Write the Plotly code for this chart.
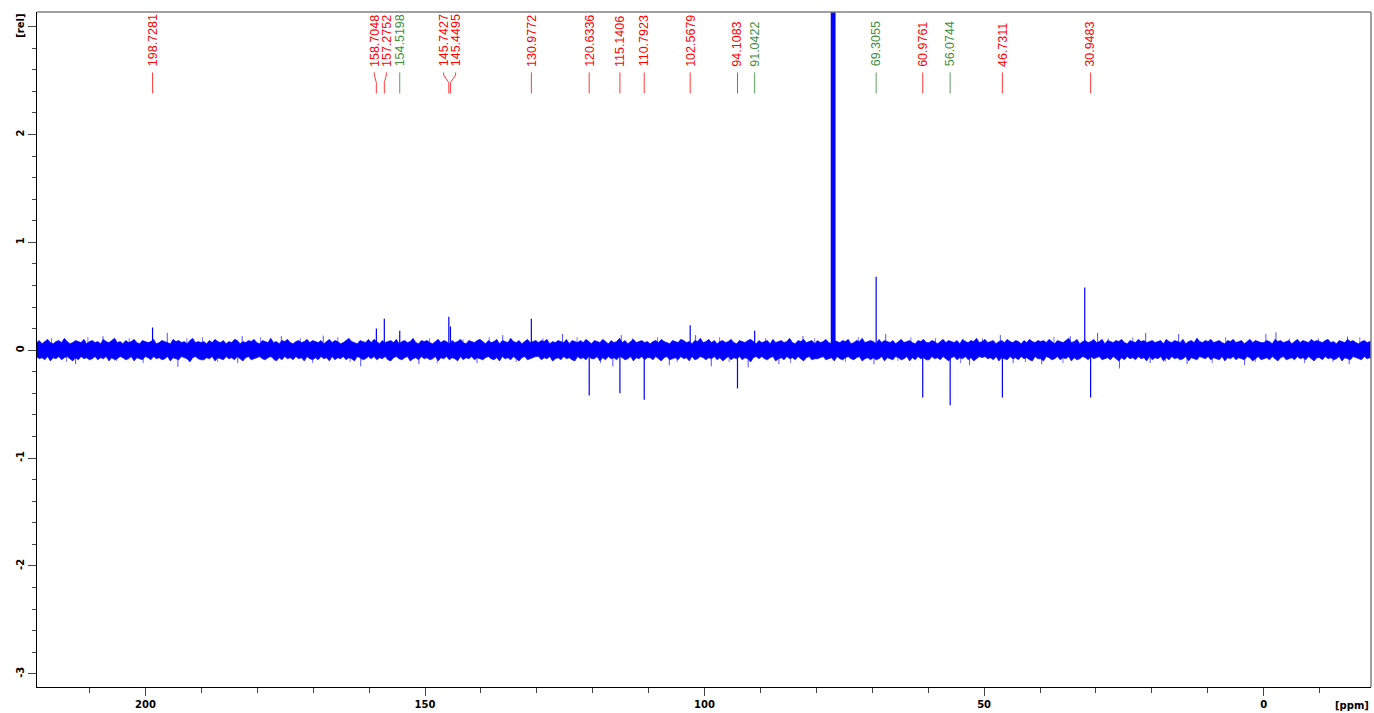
import numpy as np
import plotly.graph_objects as go

# ---------------- data ----------------
label_ppm = [198.7281, 158.7048, 157.2752, 154.5198, 145.7427, 145.4495, 130.9772,
             120.6336, 115.1406, 110.7923, 102.5679, 94.1083, 91.0422, 69.3055,
             60.9761, 56.0744, 46.7311, 30.9483]
label_text = ["198.7281", "158.7048", "157.2752", "154.5198", "145.7427", "145.4495",
              "130.9772", "120.6336", "115.1406", "110.7923", "102.5679", "94.1083",
              "91.0422", "69.3055", "60.9761", "56.0744", "46.7311", "30.9483"]
label_group = ["r", "r", "r", "g", "r", "r", "r", "r", "r", "r", "r", "r", "g", "g",
               "r", "g", "r", "r"]

# spectrum peaks (ppm, relative intensity)
peak_ppm = [198.73, 158.70, 157.28, 154.52, 145.74, 145.45, 130.98, 120.63, 115.14,
            110.79, 102.57, 94.11, 91.04, 69.31, 60.98, 56.07, 46.73, 32.0, 30.95]
peak_int = [0.21, 0.20, 0.29, 0.18, 0.31, 0.22, 0.29, -0.42, -0.40,
            -0.46, 0.23, -0.355, 0.18, 0.68, -0.44, -0.51, -0.44, 0.58, -0.44]

# solvent (CDCl3) triplet, off scale
solvent_ppm = [77.25, 77.00, 76.75]
solvent_int = [40.0, 40.0, 40.0]

# noise band envelope, in hundredths of [rel], sampled every 0.5 ppm from 219.5 to -19.5
noise_upper_c = [
    7, 9, 6, 8, 10, 7, 6, 8, 9, 7, 11, 8, 6, 7, 9, 8, 7, 10, 6, 8,
    9, 7, 8, 6, 10, 8, 7, 9, 11, 7, 8, 6, 9, 7, 8, 10, 7, 6, 9, 8,
    7, 8, 10, 6, 7, 9, 8, 7, 6, 10, 8, 9, 7, 8, 6, 9, 11, 7, 8, 7,
    8, 6, 9, 7, 10, 8, 7, 9, 6, 8, 7, 10, 9, 6, 8, 7, 9, 8, 10, 7,
    6, 9, 8, 7, 11, 7, 8, 6, 9, 8, 10, 7, 6, 8, 9, 7, 8, 10, 7, 9,
    8, 7, 9, 6, 8, 10, 7, 9, 8, 6, 7, 9, 11, 8, 7, 6, 9, 8, 7, 10,
    7, 10, 8, 6, 9, 7, 8, 9, 7, 10, 6, 8, 9, 7, 8, 11, 7, 6, 9, 8,
    9, 7, 6, 8, 10, 7, 9, 8, 6, 9, 7, 8, 10, 7, 6, 9, 8, 7, 9, 10,
    8, 6, 9, 7, 8, 10, 6, 9, 8, 7, 11, 8, 7, 9, 6, 8, 10, 7, 8, 9,
    7, 9, 8, 10, 6, 8, 7, 9, 8, 7, 10, 6, 9, 8, 7, 9, 7, 10, 8, 6,
    9, 8, 7, 10, 8, 6, 9, 7, 8, 11, 7, 9, 6, 8, 10, 7, 8, 9, 7, 8,
    6, 8, 9, 7, 10, 8, 7, 6, 9, 8, 7, 10, 9, 7, 8, 6, 9, 8, 11, 7,
    8, 10, 7, 9, 6, 8, 9, 7, 8, 10, 7, 6, 9, 8, 7, 9, 10, 8, 6, 9,
    7, 8, 9, 6, 10, 7, 8, 9, 7, 8, 11, 7, 6, 9, 8, 10, 7, 8, 9, 6,
    9, 7, 8, 10, 7, 6, 9, 8, 7, 9, 8, 10, 6, 7, 9, 8, 11, 7, 8, 9,
    8, 6, 10, 7, 9, 8, 7, 9, 6, 8, 10, 7, 8, 9, 7, 6, 9, 8, 10, 7,
    7, 9, 8, 6, 8, 10, 7, 9, 8, 7, 9, 6, 10, 8, 7, 9, 8, 11, 7, 8,
    10, 7, 8, 9, 6, 8, 9, 7, 10, 8, 7, 9, 8, 6, 9, 7, 10, 8, 7, 9,
    8, 9, 7, 10, 8, 6, 9, 8, 7, 9, 11, 7, 8, 10, 6, 8, 9, 7, 8, 10,
    7, 8, 10, 6, 9, 8, 7, 9, 8, 10, 7, 6, 9, 8, 7, 10, 8, 9, 7, 8,
    9, 7, 8, 9, 6, 10, 8, 7, 9, 8, 7, 10, 6, 8, 9, 7, 11, 8, 7, 9,
    8, 10, 7, 8, 9, 7, 6, 9, 8, 10, 7, 8, 9, 6, 8, 10, 7, 9, 8, 7,
    7, 9, 8, 6, 10, 8, 9, 7, 8, 9, 6, 8, 10, 7, 9, 8, 7, 10, 8, 9,
    8, 7, 9, 10, 7, 8, 6, 9, 8, 7, 10, 8, 9, 7, 6, 8, 9, 7, 8, 9]
noise_lower_c = [
    -6, -8, -7, -9, -6, -10, -7, -8, -6, -9, -7, -6, -8, -10, -7, -9, -6, -8, -7, -9,
    -8, -6, -9, -7, -8, -6, -10, -7, -9, -8, -6, -7, -9, -8, -6, -10, -7, -8, -9, -6,
    -7, -9, -6, -8, -7, -9, -8, -6, -10, -7, -8, -9, -6, -7, -8, -11, -7, -6, -8, -9,
    -9, -7, -8, -6, -10, -7, -8, -9, -6, -8, -7, -9, -6, -8, -10, -7, -6, -9, -8, -7,
    -6, -8, -9, -7, -6, -8, -10, -7, -9, -6, -8, -7, -9, -6, -8, -7, -10, -6, -8, -9,
    -7, -9, -6, -8, -7, -10, -6, -9, -7, -8, -6, -9, -7, -8, -10, -6, -7, -9, -8, -6,
    -8, -6, -9, -7, -8, -6, -9, -10, -7, -6, -8, -9, -7, -6, -10, -8, -7, -9, -6, -8,
    -7, -9, -8, -6, -10, -7, -8, -6, -9, -7, -8, -10, -6, -9, -7, -8, -6, -9, -7, -8,
    -9, -7, -6, -8, -9, -7, -10, -6, -8, -7, -9, -6, -8, -10, -7, -6, -9, -8, -7, -6,
    -6, -9, -7, -8, -6, -10, -8, -7, -9, -6, -8, -7, -9, -10, -6, -8, -7, -9, -6, -8,
    -8, -6, -10, -7, -9, -6, -8, -7, -9, -6, -7, -9, -8, -6, -10, -7, -8, -6, -9, -7,
    -7, -9, -6, -8, -10, -7, -6, -9, -8, -7, -9, -6, -8, -7, -10, -6, -9, -8, -6, -7,
    -9, -7, -8, -6, -9, -7, -10, -8, -6, -9, -7, -8, -6, -9, -7, -8, -11, -7, -6, -8,
    -6, -8, -9, -7, -6, -10, -8, -7, -9, -6, -8, -7, -9, -6, -8, -10, -7, -6, -9, -8,
    -8, -7, -6, -9, -8, -7, -10, -6, -8, -9, -7, -6, -8, -9, -7, -6, -10, -8, -7, -9,
    -7, -9, -8, -6, -10, -7, -8, -9, -6, -7, -9, -8, -6, -10, -7, -9, -6, -8, -7, -9,
    -9, -6, -8, -7, -9, -6, -8, -10, -7, -6, -9, -7, -8, -6, -9, -7, -10, -8, -6, -7,
    -6, -8, -7, -9, -6, -10, -7, -8, -9, -6, -8, -7, -9, -6, -8, -7, -9, -10, -6, -8,
    -8, -10, -6, -7, -9, -8, -6, -9, -7, -8, -6, -10, -7, -9, -8, -6, -7, -9, -6, -8,
    -7, -6, -9, -8, -7, -9, -6, -8, -10, -7, -9, -6, -8, -7, -9, -6, -8, -7, -10, -6,
    -9, -7, -8, -6, -10, -7, -9, -6, -8, -7, -9, -8, -6, -10, -7, -8, -9, -6, -7, -8,
    -6, -9, -7, -8, -9, -6, -10, -7, -8, -6, -9, -7, -8, -9, -6, -7, -10, -8, -6, -9,
    -8, -7, -9, -6, -8, -10, -7, -6, -9, -8, -7, -9, -6, -8, -7, -9, -6, -8, -10, -7,
    -7, -9, -6, -8, -7, -9, -8, -6, -10, -7, -8, -9, -6, -7, -8, -9, -6, -8, -7, -9]

# isolated noise spikes
spike_ppm = [212.5, 207.6, 196.1, 194.2, 183.5, 182.7, 175.7, 168.2, 161.5, 151.1,
             140.7, 136.1, 125.4, 116.4, 114.9, 106.3, 101.6, 98.8, 92.2, 86.7,
             82.4, 69.7, 67.6, 52.6, 47.1, 44.8, 39.7, 34.6, 29.7, 25.8,
             21.1, 20.3, 15.2, 13.7, 3.4, -0.4, -2.2, -15.0, -15.3]
spike_int = [-0.13, 0.13, 0.16, -0.155, -0.12, 0.13, 0.13, 0.135, -0.15, -0.13,
             -0.12, 0.14, 0.15, -0.15, 0.14, -0.14, 0.14, -0.15, -0.16, -0.13,
             0.13, -0.13, 0.15, -0.14, 0.14, -0.12, -0.13, 0.13, 0.16, -0.17,
             0.16, -0.12, 0.15, -0.13, -0.14, 0.15, 0.165, 0.125, -0.13]

# smaller fringe spikes just outside the noise band
fringe_ppm = [216.8, 214.1, 210.3, 205.2, 202.9, 200.4, 192.6, 189.8, 187.1, 179.4,
              177.0, 172.3, 170.1, 165.6, 163.4, 149.2, 147.8, 143.2, 138.5, 133.7,
              128.9, 127.0, 122.8, 118.6, 112.9, 108.4, 104.9, 97.3, 95.6, 89.1,
              84.6, 80.3, 74.8, 72.5, 65.4, 63.1, 58.7, 54.2, 50.3, 42.6,
              37.5, 35.9, 27.8, 23.4, 17.6, 11.9, 9.2, 6.8, 1.5, -4.6,
              -7.3, -9.8, -12.4, -17.2]
fringe_int = [0.11, -0.11, 0.12, -0.10, 0.11, -0.12, 0.11, 0.12, -0.11, 0.12,
              -0.10, 0.11, -0.12, 0.12, -0.11, 0.11, -0.12, 0.10, 0.12, -0.11,
              0.11, -0.10, 0.12, -0.12, 0.11, 0.12, -0.11, 0.12, -0.11, 0.11,
              -0.12, 0.11, -0.11, 0.12, -0.10, 0.12, 0.11, -0.12, 0.11, -0.11,
              0.12, -0.12, 0.11, 0.12, -0.11, 0.11, -0.12, 0.12, -0.11, 0.11,
              -0.12, 0.11, -0.11, 0.12]

x_ticks = [200, 150, 100, 50, 0]
y_ticks = [-3, -2, -1, 0, 1, 2, 3]
y_ticktext = ["-3", "-2", "-1", "0", "1", "2", ""]

X_RANGE = [219.4, -19.2]
Y_RANGE = [-3.123, 3.135]

BLUE = "#0000FF"
RED = "#FF0000"
GREEN = "#3E8E3E"
RED_LINE = "#FF3B3B"
GREEN_LINE = "#5E9E5E"

fig = go.Figure()

# noise band
n = min(len(noise_upper_c), len(noise_lower_c))
noise_ppm = np.linspace(219.5, -19.5, n)
up = [v / 100.0 for v in noise_upper_c[:n]]
lo = [v / 100.0 for v in noise_lower_c[:n]]
band_x = list(noise_ppm) + list(noise_ppm[::-1])
band_y = up + lo[::-1]
fig.add_trace(go.Scatter(x=band_x, y=band_y, fill="toself", fillcolor=BLUE,
                         mode="lines", line=dict(color="rgba(0,0,255,0.6)", width=1),
                         hoverinfo="skip", showlegend=False))


def sticks(ppms, ints):
    xs, ys = [], []
    for p, v in zip(ppms, ints):
        xs += [p, p, None]
        ys += [0, v, None]
    return xs, ys


fx, fy = sticks(fringe_ppm, fringe_int)
fig.add_trace(go.Scatter(x=fx, y=fy, mode="lines",
                         line=dict(color="rgba(0,0,255,0.55)", width=1),
                         hoverinfo="skip", showlegend=False))

sx, sy = sticks(spike_ppm, spike_int)
fig.add_trace(go.Scatter(x=sx, y=sy, mode="lines",
                         line=dict(color="rgba(0,0,255,0.7)", width=1),
                         hoverinfo="skip", showlegend=False))

px_, py_ = sticks(peak_ppm, peak_int)
fig.add_trace(go.Scatter(x=px_, y=py_, mode="lines", line=dict(color=BLUE, width=1.2),
                         hoverinfo="skip", showlegend=False))

vx, vy = sticks(solvent_ppm, solvent_int)
fig.add_trace(go.Scatter(x=vx, y=vy, mode="lines", line=dict(color=BLUE, width=2),
                         hoverinfo="skip", showlegend=False))

# ---- peak labels, spread apart where they would overlap ----
px_per_ppm = 1334 / (X_RANGE[0] - X_RANGE[1])
min_sep = 12.0 / px_per_ppm
order = sorted(range(len(label_ppm)), key=lambda i: -label_ppm[i])
disp = [label_ppm[i] for i in order]
for _ in range(50):
    for k in range(len(disp) - 1):
        d = disp[k] - disp[k + 1]
        if d < min_sep:
            s = (min_sep - d) / 2
            disp[k] += s
            disp[k + 1] -= s
disp_pos = {order[k]: disp[k] for k in range(len(order))}

Y_TEXT = 2.61
Y_TOP = 2.575
Y_BEND1 = 2.55
Y_BEND2 = 2.48
Y_BOT = 2.38

for i, (p, t, g) in enumerate(zip(label_ppm, label_text, label_group)):
    dx = disp_pos[i]
    tc = RED if g == "r" else GREEN
    lc = RED_LINE if g == "r" else GREEN_LINE
    fig.add_trace(go.Scatter(x=[dx, dx, p, p], y=[Y_TOP, Y_BEND1, Y_BEND2, Y_BOT],
                             mode="lines", line=dict(color=lc, width=1),
                             hoverinfo="skip", showlegend=False))
    fig.add_annotation(x=dx, y=Y_TEXT, xref="x", yref="y", text=t, textangle=-90,
                       showarrow=False, xanchor="center", yanchor="bottom",
                       font=dict(family="Liberation Sans, Arial", size=12.5, color=tc))

tick_font = dict(family="DejaVu Sans", size=10, color="black")

fig.update_layout(
    width=1374, height=713,
    margin=dict(l=37, r=3, t=12, b=26, autoexpand=False),
    paper_bgcolor="white", plot_bgcolor="white",
    showlegend=False,
    xaxis=dict(range=X_RANGE, tickmode="array", tickvals=x_ticks,
               ticktext=["<b>%d</b>" % v for v in x_ticks],
               ticks="outside", ticklen=8, tickwidth=1, tickcolor="#444",
               minor=dict(dtick=10, ticks="outside", ticklen=5, tickcolor="#444", tickwidth=1),
               showgrid=False, zeroline=False, showline=True, linecolor="black", linewidth=1,
               tickfont=tick_font, automargin=False),
    yaxis=dict(range=Y_RANGE, tickmode="array", tickvals=y_ticks,
               ticktext=["<b>%s</b>" % s if s else "" for s in y_ticktext],
               tickangle=-90,
               ticks="outside", ticklen=8, tickwidth=1, tickcolor="#444",
               minor=dict(dtick=0.2, ticks="outside", ticklen=4, tickcolor="#444", tickwidth=1),
               showgrid=False, zeroline=False, showline=True, linecolor="black", linewidth=1,
               tickfont=tick_font, automargin=False),
)

# frame top / right in grey
fig.add_shape(type="line", xref="paper", yref="paper", x0=0, x1=1, y0=1, y1=1,
              line=dict(color="#808080", width=1.5))
fig.add_shape(type="line", xref="paper", yref="paper", x0=1, x1=1, y0=0, y1=1,
              line=dict(color="#808080", width=1.5))

fig.add_annotation(x=-0.0125, y=0.98, xref="paper", yref="paper", text="<b>[rel]</b>",
                   textangle=-90, showarrow=False, xanchor="center", yanchor="middle",
                   font=tick_font)
fig.add_annotation(x=1.0, y=-0.027, xref="paper", yref="paper", text="<b>[ppm]</b>",
                   showarrow=False, xanchor="right", yanchor="middle", font=tick_font)

fig.write_html(
    "out.html",
    config={"displayModeBar": False},
    post_script="document.body.style.margin='0';"
                "document.documentElement.style.overflow='hidden';"
                "document.body.style.overflow='hidden';",
)
